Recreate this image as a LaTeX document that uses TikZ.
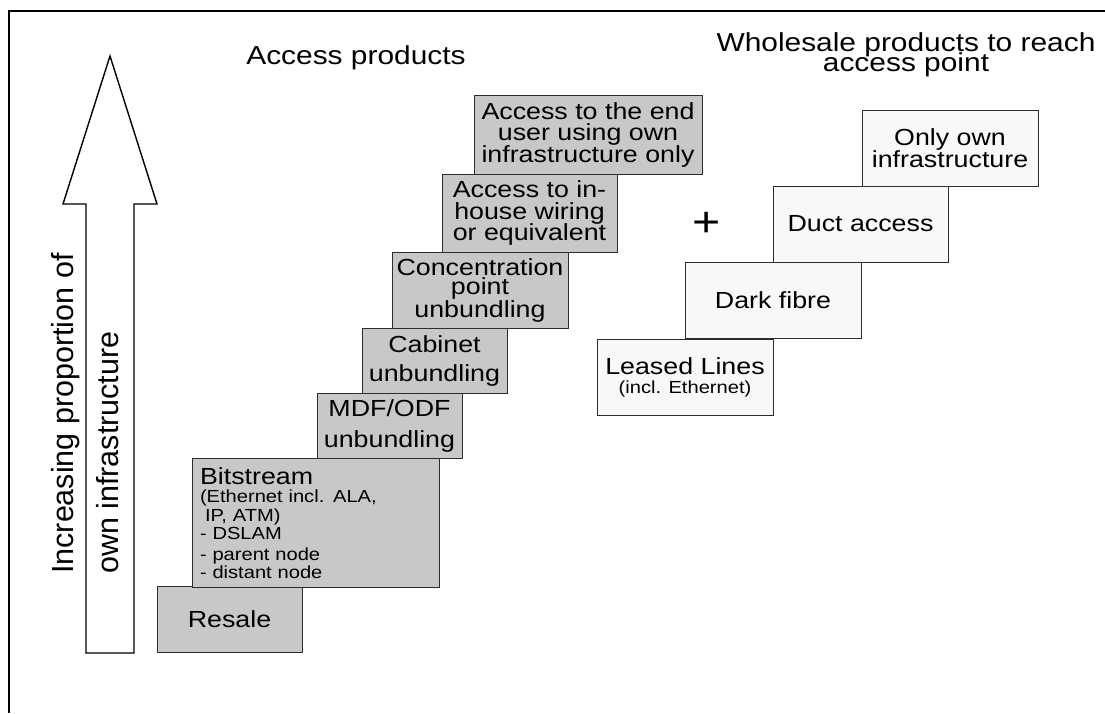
\documentclass[tikz,border=0pt]{standalone}
\usepackage{fontspec}
\setmainfont{Liberation Sans}
\newfontfamily\stepfont[FakeStretch=1.15]{Liberation Sans}
\definecolor{stepgray}{RGB}{200,200,200}
\definecolor{steplight}{RGB}{248,248,248}
\definecolor{stepedge}{RGB}{45,45,45}
% tight line spacing inside the boxes
\lineskiplimit=-30pt

\tikzset{
    product/.style={draw=stepedge, line width=1pt, fill=stepgray, align=center, inner sep=0pt,
        font=\stepfont\fontsize{23.3}{21.5}\selectfont},
    wholesale/.style={product, fill=steplight},
    heading/.style={align=center, inner sep=0pt,
        font=\stepfont\fontsize{26}{20}\selectfont},
    sidelabel/.style={rotate=90, anchor=base west, inner sep=0pt, font=\fontsize{30.5}{30.5}\selectfont}
}

\begin{document}
\begin{tikzpicture}[x=1pt, y=-1pt]
    \useasboundingbox (0,0) rectangle (1105,713);
    \draw[line width=2pt] (9,713) -- (9,11) -- (1105,11);

    % upward arrow with its label
    \draw[line width=1.4pt, fill=white] (110,56) -- (157,204) -- (134,204) -- (134,653)
        -- (86,653) -- (86,204) -- (63,204) -- cycle;
    \node[sidelabel] (incr) at (73,574) {Increasing proportion of};
    \node[sidelabel] (own) at (118,574) {own infrastructure};

    \node[heading] (acctitle) at (356,58) {Access products};
    \node[heading] (whstitle) at (906,55) {Wholesale products to reach\\access point};

    % access products, bottom step first
    \node[product, minimum width=145pt, minimum height=66pt] (resale) at (229.5,619) {Resale};
    \node[product, minimum width=247pt, minimum height=129pt, text width=231pt, align=left,
        font=\stepfont\fontsize{17.5}{18.5}\selectfont] (bitstream) at (315.5,523)
        {{\fontsize{23.3}{18.5}\selectfont Bitstream}\\(Ethernet incl. ALA,\\\hspace*{5pt}IP, ATM)\\- DSLAM\\[2pt]- parent node\\- distant node};
    \node[product, minimum width=145pt, minimum height=65pt,
        font=\stepfont\fontsize{23.3}{31}\selectfont] (mdf) at (389.5,425.5) {MDF/ODF\\unbundling};
    \node[product, minimum width=145pt, minimum height=65pt,
        font=\stepfont\fontsize{23.3}{29}\selectfont] (cabinet) at (434.5,360.5) {Cabinet\\unbundling};
    \node[product, minimum width=176pt, minimum height=76pt] (concentr) at (480,290)
        {Concentration\\[-2pt]point\\[1pt]unbundling};
    \node[product, minimum width=175pt, minimum height=78pt] (inhouse) at (529.5,213)
        {Access to in-\\house wiring\\or equivalent};
    \node[product, minimum width=228pt, minimum height=79pt] (enduser) at (588,134.5)
        {Access to the end\\user using own\\infrastructure only};

    \node[font=\stepfont\fontsize{42}{42}\selectfont, inner sep=0pt] (plus) at (707,224.4) {+};

    % wholesale products
    \node[wholesale, minimum width=176pt, minimum height=76pt,
        font=\stepfont\fontsize{23.3}{19}\selectfont] (leased) at (685,377)
        {Leased Lines\\{\fontsize{17.5}{19}\selectfont(incl. Ethernet)}};
    \node[wholesale, minimum width=176pt, minimum height=76pt] (darkfibre) at (773,300) {Dark fibre};
    \node[wholesale, minimum width=175pt, minimum height=76pt] (duct) at (860.5,224) {Duct access};
    \node[wholesale, minimum width=176pt, minimum height=76pt,
        font=\stepfont\fontsize{23.3}{21.5}\selectfont] (ownonly) at (950,148) {Only own\\infrastructure};
\end{tikzpicture}
\end{document}
